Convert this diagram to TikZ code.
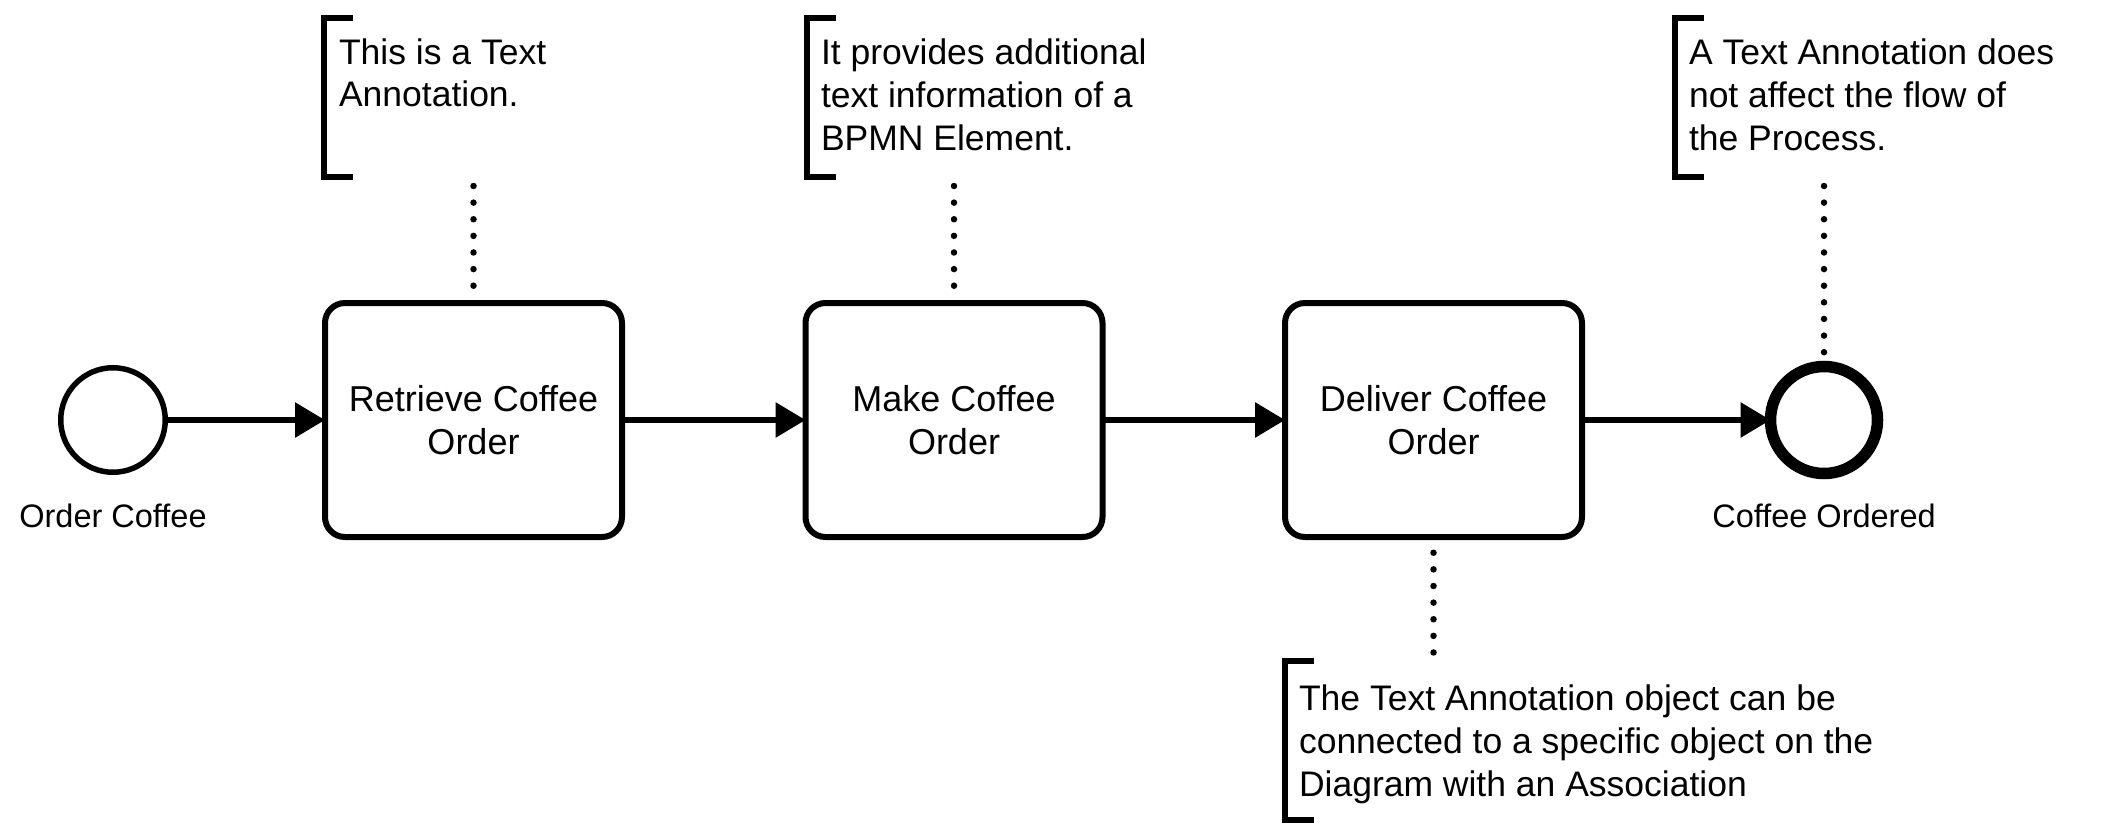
\documentclass[tikz,border=0pt]{standalone}
\usepackage{fontspec}
\setmainfont{Liberation Sans}
\usetikzlibrary{arrows.meta,calc}
\begin{document}
\begin{tikzpicture}[x=1pt,y=-1pt,
  every node/.style={inner sep=0pt,outer sep=0pt},
  event/.style={circle,draw,line width=5.5pt,minimum size=104.5pt},
  endevent/.style={circle,draw,line width=11.5pt,minimum size=107pt},
  task/.style={rectangle,draw,line width=6pt,rounded corners=20pt,
    minimum width=297pt,minimum height=234pt,align=center,
    font=\fontsize{36pt}{43pt}\selectfont},
  flow/.style={line width=6pt,-{Triangle[length=30pt,width=34pt]}},
  assoc/.style={line width=6.5pt,line cap=round,dash pattern=on 0pt off 16.62pt},
  bracketbox/.style={rectangle,minimum width=29pt,minimum height=159pt},
  bracketline/.style={line width=6pt},
  annot/.style={anchor=north west,align=left,
    font=\fontsize{35.5pt}{43pt}\selectfont},
  lab/.style={anchor=base,font=\fontsize{32.5pt}{39pt}\selectfont}
]
\fill[white] (0,0) rectangle (2112,840);
\useasboundingbox (0,0) rectangle (2112,840);

% events and tasks
\node[event] (start) at (113,420) {};
\node[task] (t1) at (473.5,420) {Retrieve Coffee\\Order};
\node[task] (t2) at (954,420) {Make Coffee\\Order};
\node[task] (t3) at (1433.5,420) {Deliver Coffee\\Order};
\node[endevent] (stop) at (1824,420) {};

\node[lab] (startlab) at (113,527) {Order Coffee};
\node[lab] (stoplab) at (1824,527) {Coffee Ordered};

% sequence flows
\draw[flow] (start) -- (t1);
\draw[flow] (t1) -- (t2);
\draw[flow] (t2) -- (t3);
\draw[flow] (t3) -- (stop);

% annotation brackets
\node[bracketbox] (b1) at (338.5,97.5) {};
\node[bracketbox] (b2) at (821.5,97.5) {};
\node[bracketbox] (b3) at (1689.5,97.5) {};
\node[bracketbox] (b4) at (1299.5,740.5) {};
\foreach \b in {b1,b2,b3,b4}{
  \draw[bracketline] (\b.north east) -- (\b.north west) -- (\b.south west) -- (\b.south east);
}

% annotation texts
\node[annot] (a1) at (339,37) {\rule{0pt}{27pt}This is a Text\\Annotation.};
\node[annot] (a2) at (821,37) {\rule{0pt}{27pt}It provides additional\\text information of a\\BPMN Element.};
\node[annot] (a3) at (1689,37) {\rule{0pt}{27pt}A Text Annotation does\\not affect the flow of\\the Process.};
\node[annot] (a4) at (1299,683) {\rule{0pt}{27pt}The Text Annotation object can be\\connected to a specific object on the\\Diagram with an Association};

% associations
\draw[assoc,shorten <=9pt,shorten >=16pt] (t1.north |- b1.south) -- (t1.north);
\draw[assoc,shorten <=9pt,shorten >=16pt] (t2.north |- b2.south) -- (t2.north);
\draw[assoc,shorten <=9pt,shorten >=12.5pt] (stop.north |- b3.south) -- (stop.north);
\draw[assoc,shorten <=15.75pt,shorten >=8pt] (t3.south) -- (t3.south |- b4.north);
\end{tikzpicture}
\end{document}
